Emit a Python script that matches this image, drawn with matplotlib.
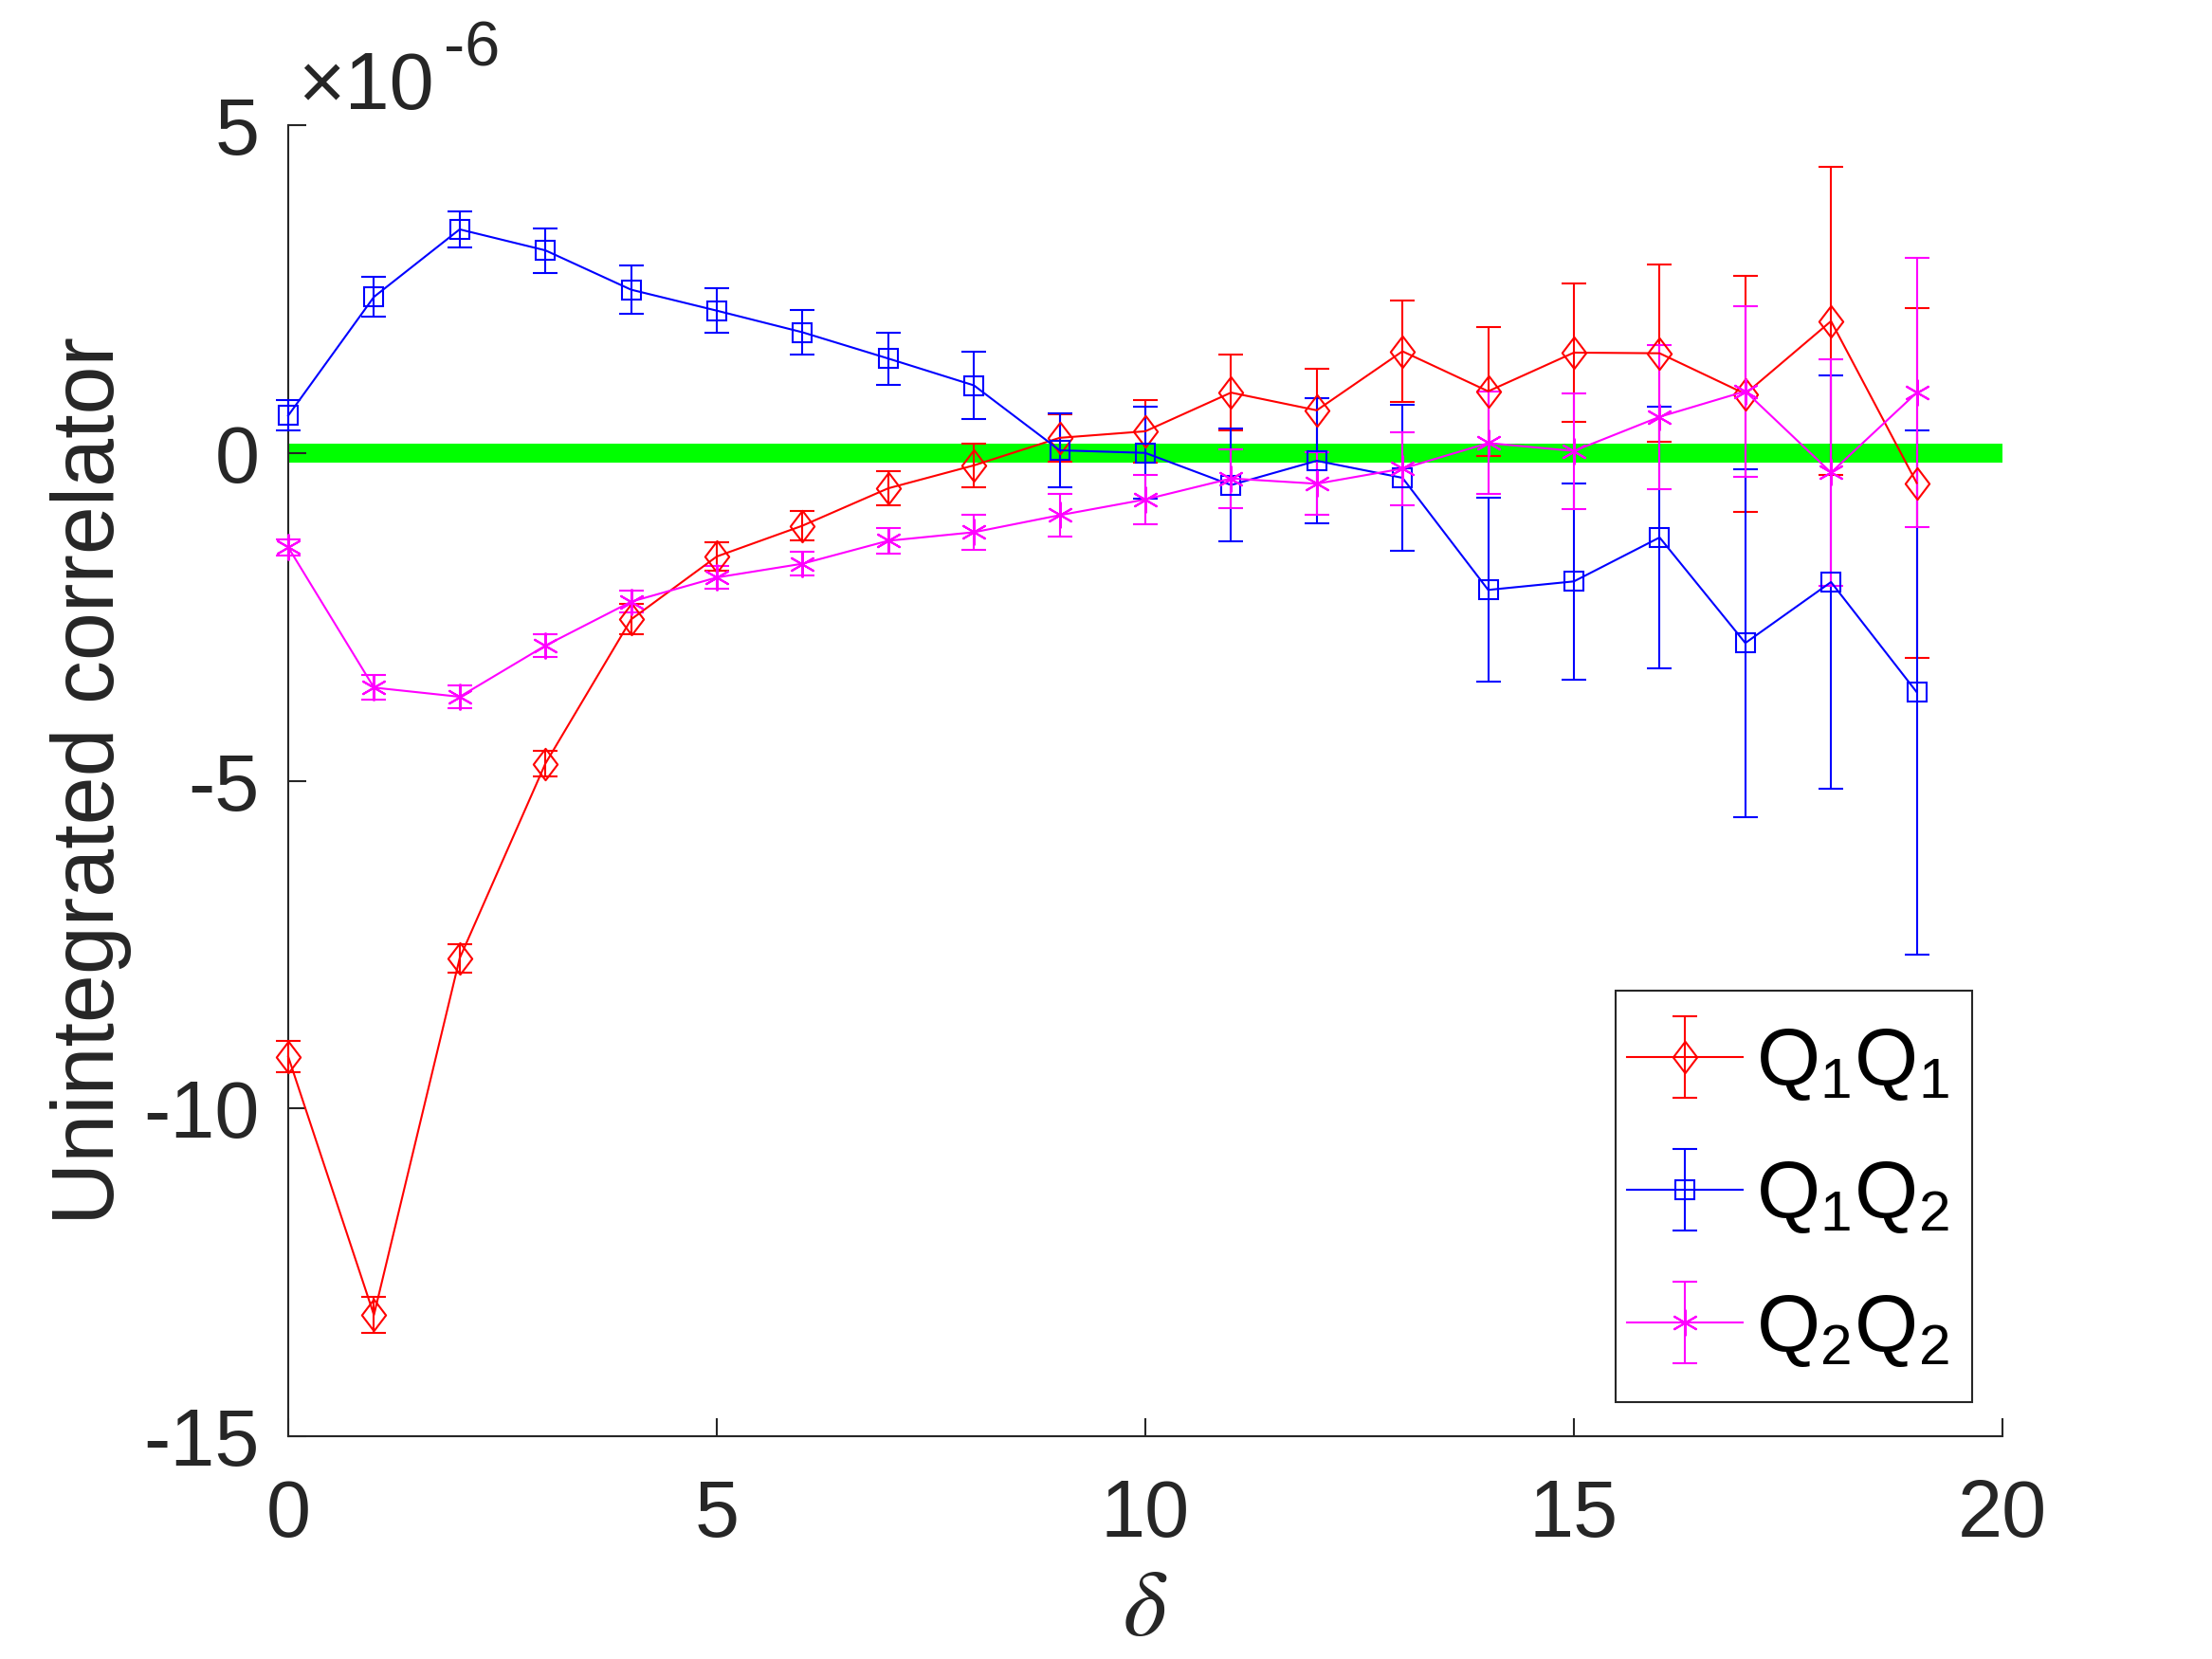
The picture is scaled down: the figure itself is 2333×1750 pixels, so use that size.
import numpy as np
import matplotlib
matplotlib.use('Agg')
from matplotlib import pyplot as plt
from matplotlib.path import Path
from matplotlib.patches import Rectangle

plt.rcParams['font.family'] = ['Liberation Sans', 'DejaVu Sans']
plt.rcParams['mathtext.fontset'] = 'stix'
plt.rcParams['axes.unicode_minus'] = False

delta = np.arange(20)

# values in units of 1e-6
q1q1 = [-9.21, -13.15, -7.71, -4.74, -2.54, -1.58, -1.11, -0.54, -0.19, 0.23,
        0.33, 0.92, 0.65, 1.55, 0.94, 1.53, 1.52, 0.90, 2.01, -0.46]
q1q1_err = [0.24, 0.28, 0.22, 0.20, 0.23, 0.22, 0.22, 0.26, 0.33, 0.36,
            0.48, 0.58, 0.64, 0.77, 0.98, 1.05, 1.35, 1.80, 2.35, 2.67]

q1q2 = [0.57, 2.38, 3.41, 3.09, 2.49, 2.17, 1.84, 1.44, 1.03, 0.04,
        0.00, -0.49, -0.12, -0.38, -2.09, -1.96, -1.29, -2.90, -1.97, -3.65]
q1q2_err = [0.23, 0.30, 0.28, 0.34, 0.37, 0.34, 0.34, 0.40, 0.51, 0.56,
            0.70, 0.86, 0.95, 1.12, 1.40, 1.50, 2.00, 2.65, 3.15, 4.00]

q2q2 = [-1.44, -3.58, -3.72, -2.94, -2.27, -1.90, -1.69, -1.34, -1.21, -0.95,
        -0.71, -0.39, -0.47, -0.24, 0.15, 0.03, 0.55, 0.94, -0.30, 0.92]
q2q2_err = [0.12, 0.19, 0.18, 0.18, 0.17, 0.17, 0.18, 0.20, 0.27, 0.32,
            0.38, 0.45, 0.48, 0.56, 0.78, 0.88, 1.10, 1.30, 1.73, 2.05]

labels = [r'$\mathregular{Q_1Q_1}$', r'$\mathregular{Q_1Q_2}$', r'$\mathregular{Q_2Q_2}$']

# matlab-like diamond, a bit taller than wide
diamond = Path([(0, 1), (0.76, 0), (0, -1), (-0.76, 0), (0, 1)],
               [Path.MOVETO, Path.LINETO, Path.LINETO, Path.LINETO, Path.CLOSEPOLY])

W, H = 2333, 1750
axcol = '#262626'
fig = plt.figure(figsize=(W / 100, H / 100), dpi=100)
ax = fig.add_axes([304 / W, 1 - 1515 / H, (2112 - 304) / W, (1515 - 132) / H])

ax.axhline(0, color='#00ff00', lw=14.4, zorder=1)

series = [
    (q1q1, q1q1_err, 'red', diamond, 24),
    (q1q2, q1q2_err, 'blue', 's', 14),
    (q2q2, q2q2_err, 'magenta', (6, 2, 0), 20),
]
handles = []
for (vals, err, col, mk, ms), lab in zip(series, labels):
    h = ax.errorbar(delta, vals, yerr=err, color=col, lw=1.5, marker=mk, ms=ms,
                    mfc='none', mec=col, mew=1.5, capsize=9.5, capthick=1.5,
                    elinewidth=1.5, label=lab, zorder=3)
    for art in h.get_children():
        art.set_clip_on(False)
    handles.append(h)

ax.set_xlim(0, 20)
ax.set_ylim(-15, 5)
ax.set_xticks([0, 5, 10, 15, 20])
ax.set_yticks([-15, -10, -5, 0, 5])
for s in ['top', 'right']:
    ax.spines[s].set_visible(False)
for s in ['left', 'bottom']:
    ax.spines[s].set_color(axcol)
    ax.spines[s].set_linewidth(1.5)
ax.tick_params(direction='in', length=14, width=1.5, colors=axcol, labelsize=61)
ax.tick_params(axis='x', pad=32)
ax.tick_params(axis='y', pad=22)

fig.text(96 / W, 1 - 823 / H, 'Unintegrated correlator', rotation=90, ha='center',
         va='center', fontsize=66, color=axcol)
fig.text(1208 / W, 0.029, r'$\delta$', ha='center', va='center', fontsize=71, color=axcol)
fig.text(314 / W, 1 - 115 / H, '×10', ha='left', va='baseline', fontsize=61, color=axcol)
fig.text(468 / W, 1 - 70 / H, '-6', ha='left', va='baseline', fontsize=48, color=axcol)

leg = ax.legend(handles=handles, loc='upper left', bbox_to_anchor=(1716 / W, 1 - 1083 / H),
                bbox_transform=fig.transFigure, borderaxespad=0, borderpad=0, fontsize=62,
                frameon=False, handlelength=1.42, labelspacing=0.70, handletextpad=0.16)
fig.add_artist(Rectangle((1704 / W, 1 - 1479 / H), (2080 - 1704) / W, (1479 - 1045) / H,
                         transform=fig.transFigure, fill=False, ec=axcol, lw=1.5))

fig.savefig('out.png', dpi=100)
plt.close()
